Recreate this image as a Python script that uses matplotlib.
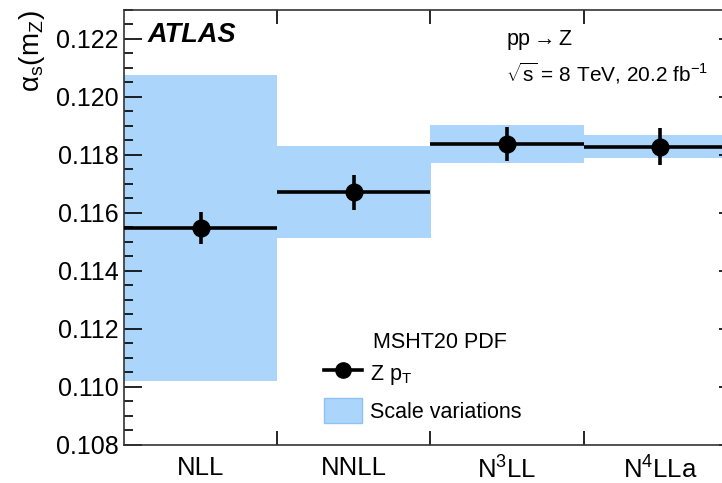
import matplotlib
matplotlib.use("Agg")
import matplotlib.pyplot as plt
import numpy as np
from matplotlib.lines import Line2D
from matplotlib.patches import Patch

plt.rcParams['font.family'] = ['Liberation Sans', 'DejaVu Sans']
plt.rcParams['mathtext.fontset'] = 'custom'
plt.rcParams['mathtext.rm'] = 'Liberation Sans'
plt.rcParams['mathtext.it'] = 'Liberation Sans:italic'
plt.rcParams['mathtext.bf'] = 'Liberation Sans:bold'

# data
orders = ['NLL', 'NNLL', r'N$^{3}$LL', r'N$^{4}$LLa']
alphas = [0.11548, 0.11671, 0.11838, 0.11829]
alphas_err = [0.00055, 0.00060, 0.00059, 0.00065]
scale_up = [0.12075, 0.11831, 0.11904, 0.11870]
scale_down = [0.11022, 0.11514, 0.11773, 0.11790]

band_color = '#acd5fc'

fig = plt.figure(figsize=(7.22, 4.83), dpi=100)
# right edge of the frame runs past the picture, as in the original
ax = fig.add_axes([124 / 722, 38 / 483, 613 / 722, 435 / 483])

x = np.arange(len(orders))
up = np.array(scale_up)
down = np.array(scale_down)

ax.bar(x, up - down, bottom=down, width=1.0, color=band_color, edgecolor='none', zorder=1)
ax.hlines(alphas, x - 0.5, x + 0.5, color='black', lw=2.6, zorder=3)
ax.errorbar(x, alphas, yerr=alphas_err, fmt='o', color='black', ms=12, elinewidth=2.6,
            capsize=0, zorder=4)

ax.set_xlim(-0.5, len(orders) - 0.5)
ax.set_ylim(0.108, 0.123)

# bin edges as major ticks, labels at bin centres
ax.set_xticks(x[:-1] + 0.5)
ax.set_xticklabels([])
ax.set_xticks(x, orders, minor=True)
ax.tick_params(axis='x', which='major', direction='in', length=10, width=1.2, top=True)
ax.tick_params(axis='x', which='minor', length=0, labelsize=18.5, pad=8)

ax.set_yticks(np.arange(0.108, 0.1225, 0.002))
ax.set_yticks(np.arange(0.108, 0.1231, 0.0005), minor=True)
ax.yaxis.set_major_formatter(plt.FormatStrFormatter('%.3f'))
ax.tick_params(axis='y', which='major', direction='in', length=13, width=1.2, right=True,
               labelsize=18, pad=4)
ax.tick_params(axis='y', which='minor', direction='in', length=6.5, width=1.2, right=True)

for s in ax.spines.values():
    s.set_linewidth(1.2)
    s.set_color('#333333')

ax.set_ylabel(r'α$_{\mathrm{s}}$(m$_{\mathrm{Z}}$)', fontsize=20, loc='top')
ax.yaxis.set_label_coords(-0.125, 0.998)

ax.text(148 / 722, 1 - 42 / 483, 'ATLAS', transform=fig.transFigure, fontsize=19.5,
        fontweight='bold', style='italic')
ax.text(506 / 722, 1 - 45 / 483, r'pp$\rightarrow$Z', transform=fig.transFigure, fontsize=15.5)
ax.text(506 / 722, 1 - 81 / 483, r'$\sqrt{\mathrm{s}}$ = 8 TeV, 20.2 fb$^{-1}$',
        transform=fig.transFigure, fontsize=15)

ax.text(373 / 722, 1 - 348 / 483, 'MSHT20 PDF', transform=fig.transFigure, fontsize=15.5)
handles = [
    Line2D([], [], color='black', lw=2.6, marker='o', ms=11),
    Patch(facecolor=band_color, edgecolor='#8ec2f5', lw=1),
]
ax.legend(handles, [r'Z p$_{\mathrm{T}}$', 'Scale variations'], frameon=False, fontsize=15.5,
          loc='upper left', bbox_to_anchor=(324 / 722, 1 - 360 / 483),
          bbox_transform=fig.transFigure, handlelength=1.75, handleheight=1.45,
          handletextpad=0.4, labelspacing=0.5, borderpad=0, borderaxespad=0)

fig.savefig('out.png', dpi=100)
